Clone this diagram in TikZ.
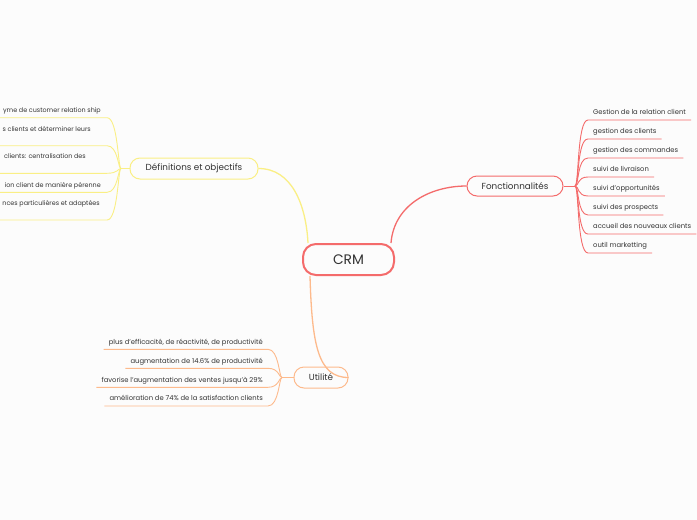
\documentclass[tikz,border=0pt]{standalone}
\usepackage{fontspec}
\setmainfont{Poppins}
\definecolor{bg}{HTML}{FCFCFC}
\definecolor{txt}{HTML}{333333}
\definecolor{cred}{HTML}{F46B6B}
\definecolor{cyel}{HTML}{FAEF85}
\definecolor{corg}{HTML}{FDBA8C}
\tikzset{
  topic/.style={draw, rounded corners=10pt, fill=bg, inner sep=0pt, text=txt,
    font=\fontsize{8.8}{10}\selectfont, line width=1pt},
  leaf/.style={inner xsep=5pt, inner ysep=5pt, text height=5pt, text depth=0pt,
    text=txt, font=\fontsize{6.8}{8}\selectfont},
  leftleaf/.style={leaf, font=\fontsize{6.4}{8}\selectfont},
  redline/.style={draw=cred, line width=1.3pt},
  yelline/.style={draw=cyel, line width=1.3pt},
  orgline/.style={draw=corg, line width=1.3pt},
  redleaf/.style={draw=cred, line width=0.9pt},
  yelleaf/.style={draw=cyel, line width=0.9pt},
  orgleaf/.style={draw=corg, line width=0.9pt},
}
\begin{document}
\begin{tikzpicture}[x=1pt,y=-1pt]
\fill[bg] (0,0) rectangle (697,520);
\useasboundingbox (0,0) rectangle (697,520);

% central topic
\node[draw=cred, line width=2pt, rounded corners=13pt, fill=bg, minimum width=91pt,
  minimum height=31pt, inner sep=0pt, text=txt, font=\fontsize{13.8}{15}\selectfont]
  (crm) at (348.5,259.5) {CRM};

% main topics
\node[topic, draw=cyel, minimum width=128pt, minimum height=21pt] (def) at (194,168.5) {Définitions et objectifs};
\node[topic, draw=cred, minimum width=96pt, minimum height=20pt] (fonc) at (515,186) {Fonctionnalités};
\node[topic, draw=corg, minimum width=54pt, minimum height=21pt] (util) at (321,377.5) {Utilité};

% main connectors
\draw[yelline] (def.east) .. controls (292,168.5) and (306,205) .. ([xshift=6pt]crm.north west);
\draw[redline] ([xshift=-4pt]crm.north east) .. controls (394,205) and (430,186) .. (fonc.west);
\draw[orgline] ([xshift=8pt]crm.south west) .. controls (312,345) and (318,377.5) .. (util.east);

% branch points
\coordinate (fb) at (575,186);
\coordinate (db) at (121,168.5);
\coordinate (ub) at (282,377.5);
\draw[redleaf] (fonc.east) -- (fb);
\draw[yelleaf] (def.west) -- (db);
\draw[orgleaf] (util.west) -- (ub);

% Fonctionnalites leaves
\node[leaf, anchor=south west] (f1) at (588,120) {Gestion de la relation client};
\node[leaf, anchor=south west] (f2) at (588,139) {gestion des clients};
\node[leaf, anchor=south west] (f3) at (588,158) {gestion des commandes};
\node[leaf, anchor=south west] (f4) at (588,177) {suivi de livraison};
\node[leaf, anchor=south west] (f5) at (588,196) {suivi d'opportunités};
\node[leaf, anchor=south west] (f6) at (588,215) {suivi des prospects};
\node[leaf, anchor=south west] (f7) at (588,234) {accueil des nouveaux clients};
\node[leaf, anchor=south west] (f8) at (588,253) {outil marketting};
\foreach \n in {f1,f2,f3,f4,f5,f6,f7,f8}{
  \draw[redleaf] (fb) .. controls +(4,0) and +(-11,0) .. (\n.south west) -- (\n.south east);
}

% Definitions leaves (cut at the left edge)
\node[leftleaf, anchor=south east, inner xsep=6pt] (d1) at (107,117.7) {yme de customer relation ship};
\node[leftleaf, anchor=south east, inner xsep=16pt, inner ysep=14.5pt] (d2) at (107,145.7) {s clients et déterminer leurs};
\node[leftleaf, anchor=south east, inner xsep=21pt, inner ysep=14.5pt] (d3) at (107,173.3) {clients: centralisation des};
\node[leftleaf, anchor=south east, inner xsep=6pt] (d4) at (107,192.3) {ion client de manière pérenne};
\node[leftleaf, anchor=south east, inner xsep=7pt, inner ysep=14.5pt] (d5) at (107,220) {nces particulières et adaptées};
\foreach \n in {d1,d2,d3,d4,d5}{
  \draw[yelleaf] (db) .. controls +(-3,0) and +(11,0) .. (\n.south east) -- ([xshift=-130pt]\n.south east);
}

% Utilite leaves
\node[leaf, anchor=south east, inner xsep=5pt] (u1) at (268,349.3) {plus d'efficacité, de réactivité, de productivité};
\node[leaf, anchor=south east, inner xsep=5pt] (u2) at (268,368.3) {augmentation de 14.6\% de productivité};
\node[leaf, anchor=south east, inner xsep=5pt] (u3) at (268,387.3) {favorise l'augmentation des ventes jusqu'à 29\%};
\node[leaf, anchor=south east, inner xsep=5pt] (u4) at (268,406) {amélioration de 74\% de la satisfaction clients};
\foreach \n in {u1,u2,u3,u4}{
  \draw[orgleaf] (ub) .. controls +(-3,0) and +(11,0) .. (\n.south east) -- (\n.south west);
}
\end{tikzpicture}
\end{document}
